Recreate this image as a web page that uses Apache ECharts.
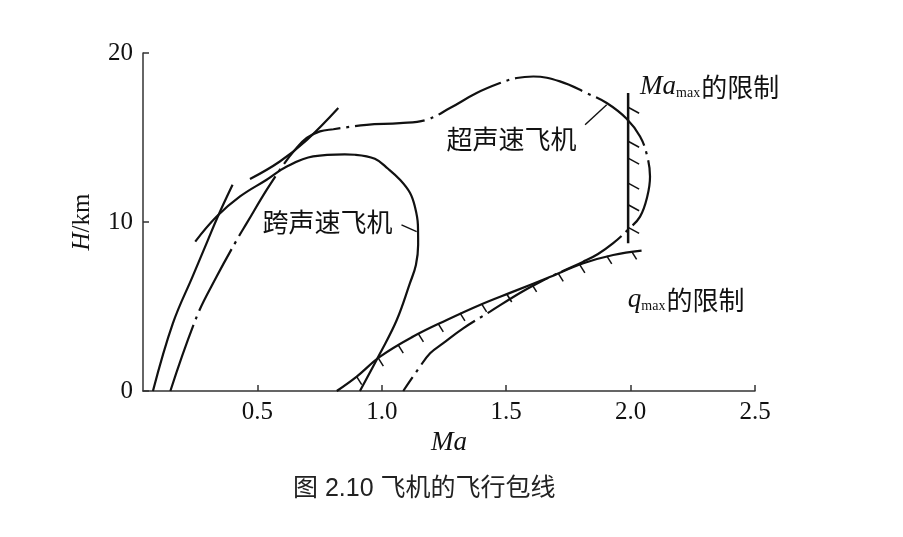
<!DOCTYPE html>
<html>
<head>
<meta charset="utf-8">
<script src="https://cdn.jsdelivr.net/npm/echarts@6/dist/echarts.min.js"></script>
<style>
  html, body { margin: 0; padding: 0; background: #fff; }
  #chart { width: 903px; height: 537px; }
</style>
</head>
<body>
<div id="chart"></div>
<script>
// x = Ma, y = H (km)
const xTicks = [0.5, 1.0, 1.5, 2.0, 2.5];
const yTicks = [0, 10, 20];

// solid steep line on the left
const leftBoundary = [[0.08, 0], [0.16, 4.0], [0.24, 6.8], [0.30, 8.9], [0.34, 10.3], [0.40, 12.2]];
// 跨声速飞机 envelope
const transonic = [
  [0.25, 8.84], [0.336, 10.32], [0.43, 11.51], [0.537, 12.5], [0.618, 13.28], [0.724, 13.88],
  [0.851, 14.0], [0.892, 13.98], [0.972, 13.74], [1.025, 13.15], [1.073, 12.5], [1.113, 11.73],
  [1.133, 10.9], [1.145, 9.83], [1.146, 8.65], [1.137, 7.46], [1.113, 6.38], [1.06, 4.2],
  [0.993, 2.23], [0.912, 0]
];
// short solid line crossing the top-left
const tangentLine = [[0.47, 12.54], [0.59, 13.58], [0.70, 14.87], [0.825, 16.74]];
// 超声速飞机 envelope (dash-dot)
const supersonic = [
  [0.15, 0], [0.256, 4.4], [0.336, 6.77], [0.417, 8.94], [0.457, 9.93], [0.537, 11.9],
  [0.604, 13.38], [0.651, 14.27], [0.698, 14.97], [0.751, 15.36], [0.805, 15.49], [0.939, 15.75],
  [1.073, 15.85], [1.18, 16.05], [1.274, 16.74], [1.381, 17.63], [1.475, 18.22], [1.542, 18.52],
  [1.609, 18.61], [1.716, 18.32], [1.823, 17.63], [1.904, 17.04], [1.984, 16.11], [2.038, 15.06],
  [2.067, 13.88], [2.078, 12.69], [2.067, 11.51], [2.038, 10.32], [1.989, 9.54], [1.93, 8.75],
  [1.869, 8.11], [1.808, 7.64], [1.728, 7.1], [1.636, 6.45], [1.555, 5.8], [1.435, 4.7],
  [1.327, 3.71], [1.247, 2.83], [1.194, 2.23], [1.148, 1.33], [1.086, 0]
];
// q_max limit
const qmaxLimit = [
  [0.819, 0], [0.899, 0.85], [0.993, 2.03], [1.126, 3.22], [1.261, 4.2], [1.394, 5.09],
  [1.528, 5.88], [1.663, 6.67], [1.81, 7.56], [1.93, 8.05], [2.044, 8.31]
];
const qmaxHatch = [
  [0.899, 0.85], [0.986, 1.95], [1.066, 2.72], [1.147, 3.38], [1.227, 3.97], [1.314, 4.62],
  [1.401, 5.15], [1.502, 5.74], [1.602, 6.34], [1.709, 6.96], [1.796, 7.46], [1.904, 8.0], [2.004, 8.26]
];
// Ma_max limit
const mamaxLine = [[1.99, 17.63], [1.99, 8.75]];
const mamaxHatch = [[1.99, 16.79], [1.99, 14.78], [1.99, 13.78], [1.99, 12.3], [1.99, 11.02], [1.99, 9.68]];

const serif = '"Liberation Serif", "Times New Roman", serif';
const cjk = '"Noto Sans CJK SC", sans-serif';
const ink = '#111';

const chart = echarts.init(document.getElementById('chart'));

function hatch(dx, dy) {
  return function (params, api) {
    const p = api.coord([api.value(0), api.value(1)]);
    return {
      type: 'line',
      shape: { x1: p[0], y1: p[1], x2: p[0] + dx, y2: p[1] + dy },
      style: { stroke: ink, lineWidth: 1.5 }
    };
  };
}

function curve(data, dash) {
  return {
    type: 'line',
    data: data,
    symbol: 'none',
    smooth: 0.4,
    silent: true,
    lineStyle: { color: ink, width: 2.2, type: dash || 'solid', cap: 'butt' }
  };
}

const axisLineStyle = { color: '#333', width: 1.5 };

chart.setOption({
  animation: false,
  grid: { left: 143, right: 148, top: 53, bottom: 146 },
  xAxis: {
    type: 'value',
    min: 0.04,
    max: 2.5,
    name: 'Ma',
    nameLocation: 'middle',
    nameGap: 30,
    nameTextStyle: { fontFamily: serif, fontStyle: 'italic', fontSize: 27, color: ink },
    axisLine: { lineStyle: axisLineStyle },
    axisTick: { inside: true, length: 6, customValues: xTicks, lineStyle: axisLineStyle },
    axisLabel: {
      customValues: xTicks,
      formatter: v => v.toFixed(1),
      fontFamily: serif, fontSize: 25, color: ink, margin: 9
    },
    splitLine: { show: false }
  },
  yAxis: {
    type: 'value',
    min: 0,
    max: 20,
    name: '{i|H}/km',
    nameLocation: 'middle',
    nameRotate: 90,
    nameGap: 48,
    nameTextStyle: {
      fontFamily: serif, fontSize: 25, color: ink,
      rich: { i: { fontFamily: serif, fontStyle: 'italic', fontSize: 25, color: ink } }
    },
    axisLine: { lineStyle: axisLineStyle },
    axisTick: { inside: true, length: 6, customValues: yTicks, lineStyle: axisLineStyle },
    axisLabel: { customValues: yTicks, fontFamily: serif, fontSize: 25, color: ink, margin: 10 },
    splitLine: { show: false }
  },
  title: {
    text: '图 2.10 飞机的飞行包线',
    left: 288,
    top: 472,
    textStyle: {
      fontFamily: '"Liberation Sans", "Noto Sans CJK SC", sans-serif',
      fontSize: 25, fontWeight: 'normal', color: '#222'
    }
  },
  series: [
    curve(leftBoundary),
    curve(transonic),
    curve(tangentLine),
    curve(supersonic, [70, 6, 3, 6]),
    curve(qmaxLimit),
    Object.assign(curve(mamaxLine), { smooth: false, lineStyle: { color: ink, width: 2.5 } }),
    { type: 'custom', silent: true, data: qmaxHatch, renderItem: hatch(5, 8) },
    { type: 'custom', silent: true, data: mamaxHatch, renderItem: hatch(11, 6) }
  ]
});

// annotations
const P = v => chart.convertToPixel({ gridIndex: 0 }, v);

function label(at, text, rich) {
  const p = P(at);
  return {
    type: 'text',
    x: p[0], y: p[1],
    silent: true,
    style: {
      text: text, fill: ink, fontFamily: cjk, fontSize: 26,
      align: 'left', verticalAlign: 'middle', rich: rich
    }
  };
}

function leader(a, b) {
  const p = P(a), q = P(b);
  return {
    type: 'line', silent: true,
    shape: { x1: p[0], y1: p[1], x2: q[0], y2: q[1] },
    style: { stroke: ink, lineWidth: 1.4 }
  };
}

const subRich = {
  it: { fontFamily: serif, fontStyle: 'italic', fontSize: 27, fill: ink },
  sub: { fontFamily: serif, fontSize: 14, fill: ink, verticalAlign: 'bottom', padding: [0, 1, 0, 0] },
  zh: { fontFamily: cjk, fontSize: 26, fill: ink }
};

chart.setOption({
  graphic: [
    label([0.52, 10.0], '跨声速飞机'),
    leader([1.079, 9.83], [1.14, 9.43]),
    label([1.26, 14.9], '超声速飞机'),
    leader([1.817, 15.75], [1.904, 16.94]),
    label([2.038, 18.0], '{it|Ma}{sub|max}{zh|的限制}', subRich),
    label([1.989, 5.39], '{it|q}{sub|max}{zh|的限制}', subRich)
  ]
});
</script>
</body>
</html>
